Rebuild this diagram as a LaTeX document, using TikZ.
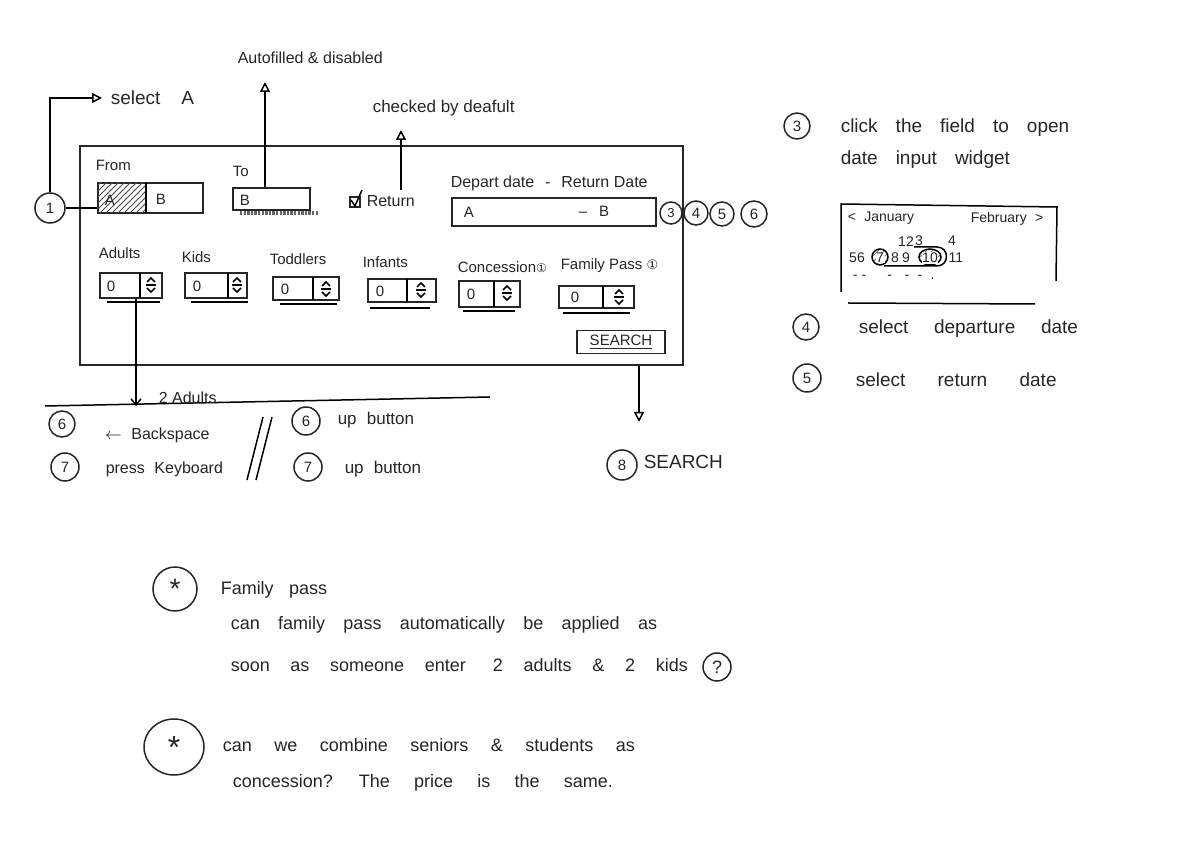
\documentclass[tikz,border=0pt]{standalone}
\usepackage{fontspec}
\setmainfont{Liberation Sans}
\newfontfamily\symfont{DejaVu Sans}
\usetikzlibrary{arrows.meta,patterns,calc,shapes.geometric}
\newcommand\setsp[1]{\spaceskip #1em plus 0.1em\relax}
\begin{document}
\begin{tikzpicture}[x=0.5pt,y=-0.5pt,line width=0.75pt,
  every node/.style={text=black!85},
  ink/.style={draw=black!85},
  hand/.style={font={\fontsize{9.5}{11}\selectfont}, inner sep=0, anchor=west},
  note/.style={font={\fontsize{9}{11}\selectfont}, inner sep=0, anchor=west},
  lbl/.style={font={\fontsize{7.5}{9}\selectfont}, inner sep=0, anchor=west},
  small/.style={font={\fontsize{7}{8}\selectfont}, inner sep=0, anchor=west},
  num/.style={circle, ink, minimum size=#1, inner sep=0, font={\fontsize{7.5}{8}\selectfont}},
  num/.default=13pt,
  fieldbox/.style={ink, inner sep=0},
  openarr/.style={-{Triangle[open,length=5pt,width=5pt]}},
  plainarr/.style={-{Straight Barb[length=3pt,width=5pt]}},
  spin/.pic={\draw (-4,-3)--(0,-7)--(4,-3); \draw (-5,0)--(5,0); \draw (-4,3)--(0,7)--(4,3);}
]
\useasboundingbox[fill=white] (0,0) rectangle (1200,865);

% ---------- main form ----------
\node[fieldbox, minimum width=301.5pt, minimum height=109.5pt] (form) at (381.5,255.5) {};

% From
\node[lbl] (fromlbl) at (95,165) {From};
\node[fieldbox, minimum width=52.5pt, minimum height=15pt] (frombox) at (150.5,198) {};
\fill[pattern=north east lines, pattern color=black!70] (98,183) rectangle (146,213);
\draw (146,183) -- (146,213);
\node[lbl] (fa) at (104,200) {A};
\node[lbl] (fb) at (155,199) {B};

% circle 1 and select A
\node[num=15pt] (c1) at (50,208) {1};
\draw (c1.east) -- (c1.east -| frombox.west);
\node[hand] (selA) at (110,98) {select\hspace{1.1em}A};
\draw[-{Triangle[length=5pt,width=5pt,open]}, shorten >=4pt] (c1.north) |- (selA.west);

% To
\node[lbl] (tolbl) at (232,171) {To};
\node[fieldbox, minimum width=38.5pt, minimum height=11pt] (tobox) at (271.5,199) {};
\node[lbl] (tob) at (239,200) {B};
\draw[black!60, line width=1.6pt, dash pattern=on 1.2pt off 0.6pt] (240,213) -- (318,213);
\node[lbl, font={\fontsize{8}{9}\selectfont}] (af) at (237,58) {Autofilled \& disabled};
\coordinate (afhead) at (265,82);
\draw[openarr] (tobox.north -| afhead) -- (afhead);

% Return checkbox
\node[ink, minimum size=5pt, inner sep=0] (chk) at (355,202) {};
\draw (351,200) -- (355,206) -- (362,190);
\node[lbl, font={\fontsize{8}{9}\selectfont}] (ret) at (366,201) {Return};
\node[lbl, font={\fontsize{8.5}{9}\selectfont}] (chkd) at (372,108) {checked by deafult};
\coordinate (chkhead) at (401,130);
\coordinate (chkfoot) at (401,190);
\draw[openarr] (chkfoot) -- (chkhead);

% dates
\node[lbl, font={\fontsize{8}{9}\selectfont}] (dlbl) at (450,183) {Depart date\hspace{0.4em} -\hspace{0.4em} Return Date};
\node[fieldbox, minimum width=102pt, minimum height=14pt] (datebox) at (554,212) {};
\node[lbl] (da) at (463,212) {A};
\node[lbl] (db) at (578,211) {--\hspace{0.8em}B};
\node[num=11pt, font={\fontsize{6.5}{7}\selectfont}] (d3) at (671,213) {3};
\node[num=12pt] (d4) at (696,213) {4};
\node[num=12pt] (d5) at (722,214) {5};
\node[num=13pt] (d6) at (754,214) {6};

% ---------- passenger row ----------
\node[lbl] (adl) at (98,253) {Adults};
\node[lbl] (kdl) at (181,257) {Kids};
\node[lbl] (tdl) at (269,259) {Toddlers};
\node[lbl] (inl) at (362,262) {Infants};
\node[lbl] (col) at (457,267) {Concession{\symfont\fontsize{6}{7}\selectfont ①}};
\node[lbl] (fpl) at (560,266) {Family Pass {\symfont\fontsize{6.5}{7}\selectfont ①}};

\node[fieldbox, minimum width=31pt, minimum height=12.5pt] (adb) at (131,285.5) {};
\draw (140,273) -- (140,298); \pic at (151,285) {spin};
\node[lbl] at (106,286) {0};
\draw (107,302) -- (160,302);

\node[fieldbox, minimum width=31pt, minimum height=12.5pt] (kdb) at (216,285.5) {};
\draw (228,273) -- (228,298); \pic at (237,285) {spin};
\node[lbl] at (192,286) {0};
\draw (191,302) -- (248,302);

\node[fieldbox, minimum width=33pt, minimum height=11.5pt] (tdb) at (306,288.5) {};
\draw (313,277) -- (313,300); \pic at (326,289) {spin};
\node[lbl] at (280,289) {0};
\draw (280,304) -- (337,304);

\node[fieldbox, minimum width=34pt, minimum height=11.5pt] (inb) at (402,290.5) {};
\draw (407,279) -- (407,302); \pic at (421,290) {spin};
\node[lbl] at (375,291) {0};
\draw (370,308) -- (430,308);

\node[fieldbox, minimum width=30.5pt, minimum height=13pt] (cob) at (489.5,294) {};
\draw (494,281) -- (494,307); \pic at (507,293) {spin};
\node[lbl] at (466,294) {0};
\draw (463,311) -- (515,311);

\node[fieldbox, minimum width=37.5pt, minimum height=11pt] (fpb) at (596.5,297) {};
\draw (603,286) -- (603,308); \pic at (619,297) {spin};
\node[lbl] at (570,297) {0};
\draw (563,313) -- (630,313);

% search button
\node[fieldbox, minimum width=44pt, minimum height=11.5pt, font={\fontsize{7.5}{8}\selectfont}] (search) at (621,342) {\underline{SEARCH}};
\coordinate (shead) at (639,422);
\draw[openarr] (form.south -| shead) -- (shead);
\node[num=15pt] (c8) at (622,465) {8};
\node[hand, font={\fontsize{9.5}{10}\selectfont}] (s8) at (643,462) {SEARCH};

% adults arrow and lower notes
\coordinate (ahead) at (136,406);
\draw[plainarr] (adb.south -| ahead) -- (ahead);
\coordinate (hl1) at (45,406);
\coordinate (hl2) at (490,397);
\draw (hl1) -- (hl2);
\node[lbl, font={\fontsize{8}{9}\selectfont}] (twoad) at (158,398) {2 Adults};

\node[num=13pt] (l6) at (62,424) {6};
\node[lbl, font={\fontsize{8}{9}\selectfont}] (bksp) at (104,435) {$\leftarrow$\hspace{0.6em}Backspace};
\node[num=14pt] (l7) at (65,467) {7};
\node[lbl, font={\fontsize{8}{9}\selectfont}] (prk) at (105,469) {press\hspace{0.6em}Keyboard};
\coordinate (sl1a) at (263,417); \coordinate (sl1b) at (247,480);
\coordinate (sl2a) at (272,417); \coordinate (sl2b) at (256,480);
\draw (sl1a) -- (sl1b); \draw (sl2a) -- (sl2b);
\node[num=14pt] (r6) at (306,421) {6};
\node[lbl, font={\fontsize{8.5}{9}\selectfont}] (upb1) at (337,420) {up\hspace{0.6em}button};
\node[num=14pt] (r7) at (308,467) {7};
\node[lbl, font={\fontsize{8.5}{9}\selectfont}] (upb2) at (344,469) {up\hspace{0.6em}button};

% ---------- right side ----------
\node[num=13pt] (n3) at (797,126) {3};
\node[hand] (t3a) at (840,128) {\setsp{0.95}click the field to open};
\node[hand] (t3b) at (840,160) {\setsp{0.95}date input widget};

\coordinate (cal1) at (841,292); \coordinate (cal2) at (841,204);
\coordinate (cal3) at (1057,207); \coordinate (cal4) at (1056,281);
\draw (cal1) -- (cal2) -- (cal3) -- (cal4);
\coordinate (cl1) at (848,303); \coordinate (cl2) at (1035,304);
\draw (cl1) -- (cl2);
\node[small] (jan) at (847,218) {<\hspace{0.6em}January};
\node[small] (feb) at (970,219) {February\hspace{0.6em}>};
% calendar day numbers
\node[small, anchor=center] (k1) at (902,242) {1};
\node[small, anchor=center] (k2) at (910,242) {2};
\node[small, anchor=center] (k3) at (919,241) {3};
\node[small, anchor=center] (k4) at (952,241) {4};
\fill[pattern=north east lines, pattern color=black!50] (880,257) circle (8);
\fill[pattern=north east lines, pattern color=black!50] (930,257) ellipse (11 and 8);
\draw (880,257) circle (8);
\draw (930,257) ellipse (11 and 8);
\draw (884,266) -- (937,266) to[out=0,in=0,looseness=1.7] (937,247) -- (914,247);
\node[small, anchor=center] (k5) at (853,258) {5};
\node[small, anchor=center] (k6) at (861,258) {6};
\node[small, anchor=center, fill=white, inner sep=0.3pt] (k7) at (880,258) {7};
\node[small, anchor=center] (k8) at (895,258) {8};
\node[small, anchor=center] (k9) at (906,258) {9};
\node[small, anchor=center, fill=white, inner sep=0.3pt] (k10) at (930,258) {10};
\node[small, anchor=center] (k11) at (956,258) {11};
\node[small] (dots) at (852,277) {-\hspace{0.3em}-\hspace{1.5em}-\hspace{0.9em}-\hspace{0.6em}-\hspace{0.6em}.};

\node[num=13pt] (n4) at (806,327) {4};
\node[hand] (t4) at (858,329) {\setsp{1.35}select departure date};
\node[num=14pt] (n5) at (807,378) {5};
\node[hand] (t5) at (855,380) {\setsp{1.7}select return date};

% ---------- notes ----------
\node[num=22pt, font={\fontsize{14}{14}\selectfont}] (st1) at (175,589) {*};
\node[note] (fp) at (220,590) {\setsp{0.85}Family pass};
\node[note] (fp1) at (230,625) {\setsp{1.02}can family pass automatically be applied as};
\node[note] (fp2) at (230,665) {\setsp{1.15}soon as someone enter\hspace{1.5em}2 adults \& 2 kids};
\node[num=14pt, font={\fontsize{9}{10}\selectfont}] (q) at (717,667) {?};

\node[ink, ellipse, minimum width=30pt, minimum height=28pt, inner sep=0, font={\fontsize{16}{16}\selectfont}] (st2) at (174,747) {*};
\node[note] (cs1) at (222,745) {\setsp{1.25}can we combine seniors \& students as};
\node[note] (cs2) at (232,783) {\setsp{1.35}concession? The price is the same.};
\end{tikzpicture}
\end{document}
